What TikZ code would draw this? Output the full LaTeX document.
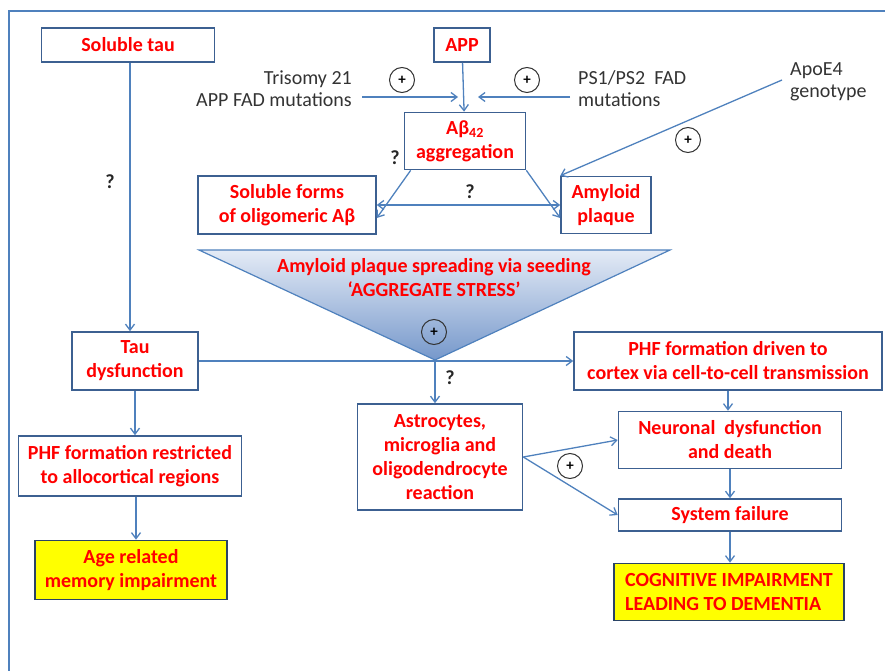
\documentclass[tikz,border=0pt]{standalone}
\usepackage{fontspec}
\setmainfont{Carlito}
\usetikzlibrary{arrows.meta}
\definecolor{linkblue}{RGB}{79,129,189}
\definecolor{boxblue}{RGB}{60,96,145}
\definecolor{txtred}{RGB}{255,0,0}
\definecolor{noteyellow}{RGB}{255,255,0}
\definecolor{tritop}{RGB}{228,235,246}
\definecolor{tribot}{RGB}{118,152,203}
\tikzset{
  box/.style={draw=boxblue,line width=1.6pt,fill=white,text=txtred,
    font=\bfseries\fontsize{20}{24}\selectfont,align=center,inner sep=0pt},
  goal/.style={box,fill=noteyellow,draw=boxblue!70!black},
  arr/.style={linkblue,line width=1.3pt,-{Straight Barb[length=6pt,width=9pt]}},
  twoarr/.style={linkblue,line width=1.3pt,{Straight Barb[length=6pt,width=9pt]}-{Straight Barb[length=6pt,width=9pt]}},
  plus/.style={circle,draw=black!80,line width=1pt,minimum size=25pt,inner sep=0pt,font=\bfseries\fontsize{15}{15}\selectfont},
  note/.style={font=\fontsize{20}{22}\selectfont,text=black!80,inner sep=0pt},
  query/.style={font=\bfseries\fontsize{20}{20}\selectfont,text=black!85}
}
\begin{document}
\begin{tikzpicture}[x=1pt,y=-1pt]
\useasboundingbox (0,0) rectangle (885,671);
\draw[linkblue,line width=1.5pt] (9,671) -- (9,11) -- (885,11);
% amyloid branch
\node[box,minimum width=173pt,minimum height=34pt] (soltau) at (128,45) {Soluble tau};
\node[box,minimum width=56pt,minimum height=34pt] (app) at (462,45) {APP};
\node[box,minimum width=121pt,minimum height=57pt] (abeta) at (465,141) {Aβ\textsubscript{42}\\aggregation};
\node[box,minimum width=178pt,minimum height=58pt] (oligo) at (287,205) {Soluble forms\\of oligomeric Aβ};
\node[box,minimum width=90pt,minimum height=57pt] (amy) at (606,205) {Amyloid\\plaque};
\node[note,align=right,anchor=east] (tri) at (352,89) {Trisomy 21\\APP FAD mutations};
\node[note,align=left,anchor=west] (ps) at (578,89) {PS1/PS2\ \ FAD\\mutations};
\node[note,align=left,anchor=west] (apoe) at (790,82) {ApoE4\\genotype};
\coordinate (tri-a) at (362,97);
\coordinate (tri-b) at (458,97);
\coordinate (ps-a) at (570,97);
\coordinate (ps-b) at (478,97);
\coordinate (apoe-a) at (782,80);
% aggregate stress triangle
\coordinate (tl) at (199,250);
\coordinate (tr) at (670,250);
\coordinate (apex) at (435,360);
\shade[top color=tritop,bottom color=tribot,draw=linkblue,line width=1.2pt] (tl) -- (tr) -- (apex) -- cycle;
\node[text=txtred,font=\bfseries\fontsize{20}{24}\selectfont,align=center] (spread) at (434,278)
  {Amyloid plaque spreading via seeding\\‘AGGREGATE STRESS’};
% tau branch and outcomes
\node[box,minimum width=126pt,minimum height=58pt] (taudys) at (135,361) {Tau\\dysfunction};
\node[box,minimum width=308pt,minimum height=58pt] (phfdrive) at (728,361) {PHF formation driven to\\cortex via cell-to-cell transmission};
\node[box,minimum width=165pt,minimum height=106pt] (astro) at (440,457) {Astrocytes,\\microglia and\\oligodendrocyte\\reaction};
\node[box,minimum width=223pt,minimum height=57pt] (neur) at (730,440) {Neuronal\ \ dysfunction\\and\ death};
\node[box,minimum width=223pt,minimum height=32pt] (sysf) at (730,515) {System failure};
\node[goal,minimum width=230pt,minimum height=57pt,align=left] (cogn) at (729,592) {COGNITIVE IMPAIRMENT\\LEADING TO DEMENTIA};
\node[box,minimum width=223pt,minimum height=60pt] (phfrest) at (130,466) {PHF formation restricted\\to allocortical regions};
\node[goal,minimum width=192pt,minimum height=59pt] (age) at (131,570) {Age related\\memory impairment};
% connectors
\draw[arr] (app) -- (abeta);
\draw[arr] (tri-a) -- (tri-b);
\draw[arr] (ps-a) -- (ps-b);
\draw[arr] (apoe-a) -- (amy.north west);
\draw[arr] ([xshift=7pt]abeta.south west) -- ([yshift=-13pt]oligo.east);
\draw[arr] (abeta.south east) -- ([yshift=-13pt]amy.west);
\draw[twoarr] (oligo.east) -- (amy.west);
\draw[arr] ([xshift=2pt]soltau.south) -- ([xshift=2pt]soltau.south |- taudys.north);
\draw[arr] (taudys.east) -- (phfdrive.west);
\draw[arr] (apex) -- (apex |- astro.north);
\draw[arr] (taudys.south) -- (taudys.south |- phfrest.north);
\draw[arr] ([xshift=6pt]phfrest.south) -- ([xshift=6pt]phfrest.south |- age.north);
\draw[arr] (phfdrive.south) -- (phfdrive.south |- neur.north);
\draw[arr] (astro.east) -- (neur.west);
\draw[arr] (astro.east) -- (sysf.west);
\draw[arr] (neur.south) -- (sysf.north);
\draw[arr] (sysf.south) -- (sysf.south |- cogn.north);
% markers
\node[plus] (p1) at (402,80) {+};
\node[plus] (p2) at (527,80) {+};
\node[plus] (p3) at (688,140) {+};
\node[plus] (p4) at (434,332) {+};
\node[plus] (p5) at (570,466) {+};
\node[query] (q1) at (110,182) {?};
\node[query] (q2) at (395,158) {?};
\node[query] (q3) at (470,192) {?};
\node[query] (q4) at (450,378) {?};
\end{tikzpicture}
\end{document}
